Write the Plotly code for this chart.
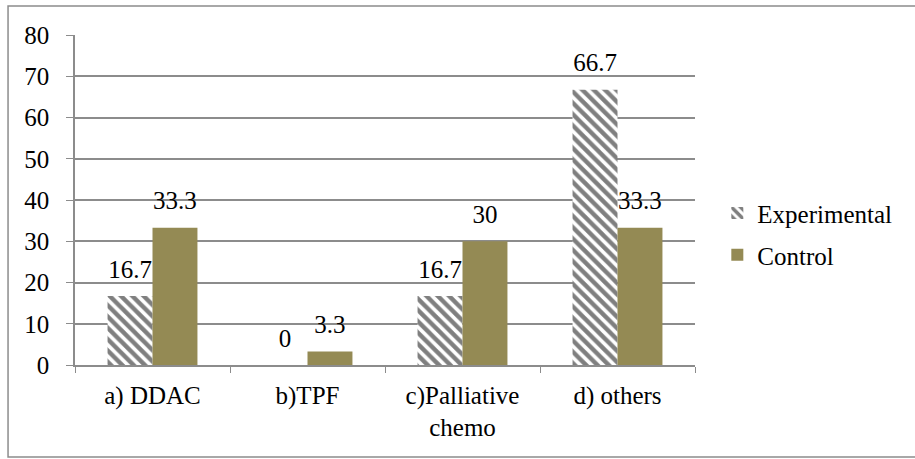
import plotly.graph_objects as go

categories = ["a) DDAC", "b)TPF", "c)Palliative<br>chemo", "d) others"]
experimental = [16.7, 0, 16.7, 66.7]
control = [33.3, 3.3, 30, 33.3]
y_ticks = [0, 10, 20, 30, 40, 50, 60, 70, 80]

FONT = "Liberation Serif"
FS = 25
GRID = "#8c8c8c"
OLIVE = "#948a54"

series = [
    ("Experimental", experimental, "legend",
     dict(color="white", line=dict(width=0),
          pattern=dict(shape="\\", fgcolor="black", bgcolor="white",
                       size=8, solidity=0.55))),
    ("Control", control, "legend2",
     dict(color=OLIVE, line=dict(width=0))),
]

fig = go.Figure()
for name, vals, leg, marker in series:
    fig.add_trace(go.Bar(
        name=name, x=categories, y=vals, marker=marker,
        offsetgroup=name, legend=leg,
    ))
# value labels, grouped alongside the bars
for name, vals, leg, _ in series:
    fig.add_trace(go.Scatter(
        x=categories, y=vals, mode="markers+text",
        text=[f"{v:g}" for v in vals], textposition="top center",
        textfont=dict(size=FS, color="black", family=FONT),
        marker=dict(size=18, opacity=0),
        offsetgroup=name, showlegend=False, hoverinfo="skip",
        cliponaxis=False,
    ))

# outer chart frame
fig.add_shape(type="rect", xref="paper", yref="paper",
              x0=-0.108, x1=1.36, y0=-0.279, y1=1.088,
              line=dict(color=GRID, width=1.5), layer="below")

legend_style = dict(xanchor="left", yanchor="middle",
                    font=dict(size=FS, family=FONT, color="black"),
                    itemwidth=30, bgcolor="rgba(0,0,0,0)")

fig.update_layout(
    width=915, height=459,
    margin=dict(l=75, r=220, t=35, b=94),
    paper_bgcolor="white", plot_bgcolor="white",
    barmode="group", bargap=0.42, bargroupgap=0,
    scattermode="group", scattergap=0.42,
    font=dict(family=FONT, size=FS, color="black"),
    showlegend=True,
    legend=dict(x=1.036, y=0.46, **legend_style),
    legend2=dict(x=1.036, y=0.333, **legend_style),
)
fig.update_xaxes(
    showline=True, linecolor=GRID, linewidth=1.5,
    ticks="outside", tickson="boundaries", ticklen=6, tickcolor=GRID,
    tickfont=dict(size=FS, family=FONT, color="black"),
    ticklabelstandoff=7, showgrid=False,
)
fig.update_yaxes(
    range=[0, 80], tickvals=y_ticks, ticktext=[str(v) for v in y_ticks],
    showline=True, linecolor=GRID, linewidth=1.5,
    ticks="outside", ticklen=7, tickcolor=GRID,
    showgrid=True, gridcolor=GRID, gridwidth=1.5,
    tickfont=dict(size=FS, family=FONT, color="black"),
    ticklabelstandoff=12, zeroline=False,
)

fig.write_html("out.html")
